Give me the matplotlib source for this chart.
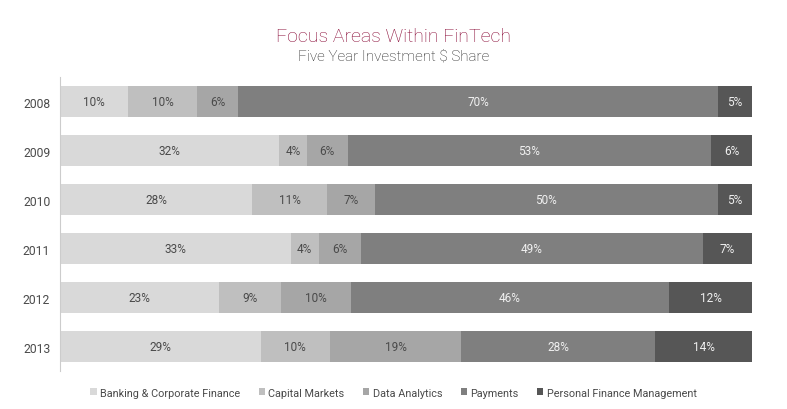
"""Focus Areas Within FinTech - five year investment share, stacked horizontal bars."""

import numpy as np
import matplotlib
matplotlib.use("Agg")
import matplotlib.pyplot as plt

years = ["2008", "2009", "2010", "2011", "2012", "2013"]
categories = ["Banking & Corporate Finance", "Capital Markets", "Data Analytics",
              "Payments", "Personal Finance Management"]
banking = [10, 32, 28, 33, 23, 29]
capital = [10, 4, 11, 4, 9, 10]
analytics = [6, 6, 7, 6, 10, 19]
payments = [70, 53, 50, 49, 46, 28]
personal = [5, 6, 5, 7, 12, 14]

colors = ["#d9d9d9", "#bfbfbf", "#a6a6a6", "#7f7f7f", "#565656"]
text_colors = ["#4a4a4a", "#4a4a4a", "#4a4a4a", "#f0f0f0", "#f0f0f0"]

plt.rcParams["font.family"] = ["Roboto", "DejaVu Sans"]

series = np.array([banking, capital, analytics, payments, personal], dtype=float)
# rows are drawn at full width, so scale each year to 100
shares = series / series.sum(axis=0) * 100

fig = plt.figure(figsize=(7.87, 4.10), dpi=100)
ax = fig.add_axes([0.0762, 0.093, 0.8793, 0.717])

y = np.arange(len(years))
left = np.zeros(len(years))
for i, name in enumerate(categories):
    ax.barh(y, shares[i], left=left, height=0.63, color=colors[i], label=name)
    for j in range(len(years)):
        ax.text(left[j] + shares[i][j] / 2, y[j], f"{series[i][j]:.0f}%",
                ha="center", va="center", fontsize=8.5, color=text_colors[i])
    left += shares[i]

ax.set_xlim(0, 100)
ax.set_ylim(5.49, -0.51)
ax.set_yticks(y)
ax.set_yticklabels(years, fontsize=8.7, color="#4a4a4a")
ax.set_xticks([])
ax.tick_params(axis="y", length=0, pad=7)
for side in ["top", "right", "bottom"]:
    ax.spines[side].set_visible(False)
ax.spines["left"].set_color("#cccccc")
ax.spines["left"].set_linewidth(0.8)

fig.text(0.5, 0.91, "Focus Areas Within FinTech", ha="center", va="center",
         fontsize=14, color="#8a0c38", fontweight="light")
fig.text(0.5, 0.862, "Five Year Investment $ Share", ha="center", va="center",
         fontsize=11, color="#1e1e1e", fontweight="light")

fig.legend(loc="center", bbox_to_anchor=(0.5, 0.04), ncol=5, frameon=False,
           fontsize=7.8, handlelength=0.6, handleheight=0.6, handletextpad=0.3,
           columnspacing=1.7, labelcolor="#4a4a4a")

fig.savefig("out.png", dpi=100)
